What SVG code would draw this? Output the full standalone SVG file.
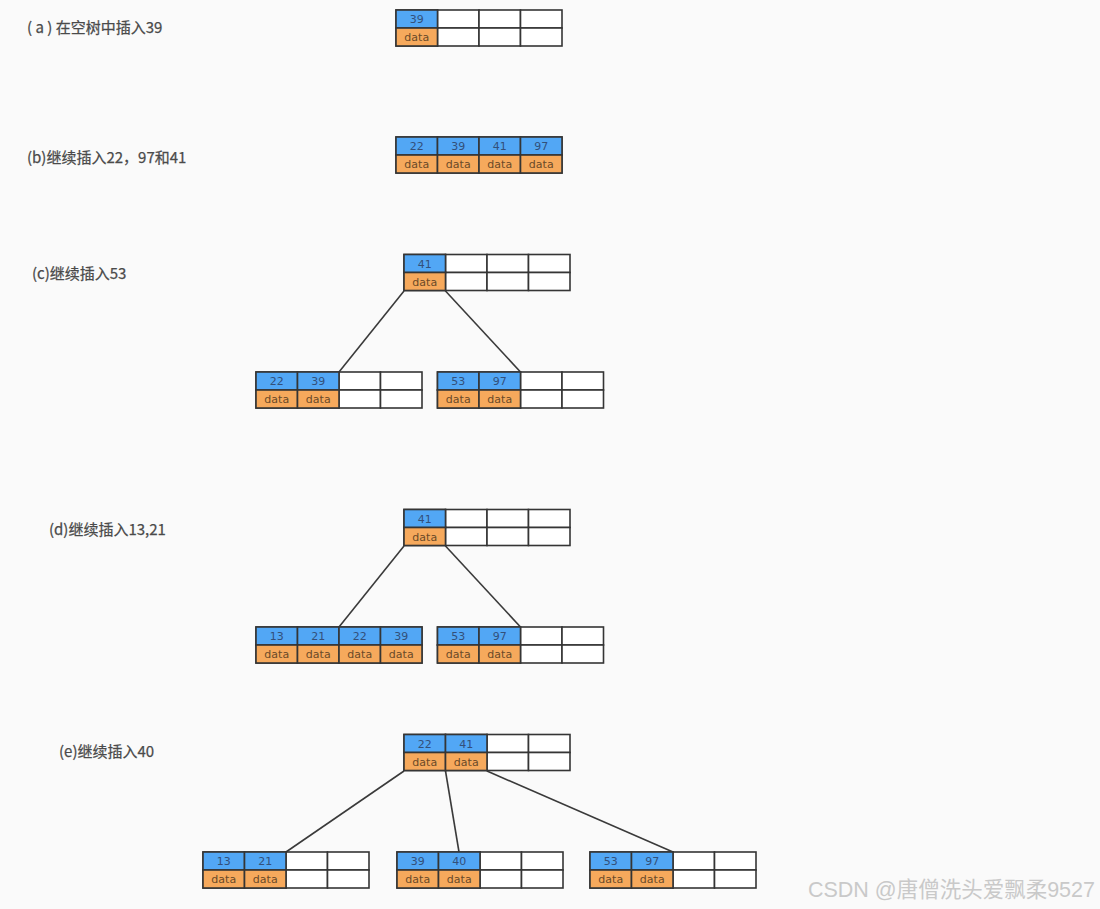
<svg xmlns="http://www.w3.org/2000/svg" width="1100" height="909" viewBox="0 0 1100 909">
<defs>
<style>
.bg{fill:#fafafa}
.k{fill:#52a7f5;stroke:#353535;stroke-width:1.6}
.d{fill:#f6a95c;stroke:#353535;stroke-width:1.6}
.e{fill:#ffffff;stroke:#353535;stroke-width:1.6}
.kt{font-family:"DejaVu Sans",sans-serif;font-size:11px;fill:#33507a;text-anchor:middle}
.dt{font-family:"DejaVu Sans",sans-serif;font-size:11px;fill:#6a4a28;text-anchor:middle}
.lbl{font-family:"Noto Sans CJK SC","Noto Sans",sans-serif;font-size:15px;fill:#4a4a4a;stroke:#4a4a4a;stroke-width:0.25}
.wm{font-family:"Liberation Sans","Noto Sans CJK SC",sans-serif;font-size:21.5px;fill:#c9c9c9;text-anchor:end}
.ln{stroke:#3a3a3a;stroke-width:1.6;fill:none}
</style>
<g id="e4">
<rect class="e" x="0" y="0" width="41.5" height="18"/><rect class="e" x="41.5" y="0" width="41.5" height="18"/><rect class="e" x="83" y="0" width="41.5" height="18"/><rect class="e" x="124.5" y="0" width="41.5" height="18"/>
<rect class="e" x="0" y="18" width="41.5" height="18"/><rect class="e" x="41.5" y="18" width="41.5" height="18"/><rect class="e" x="83" y="18" width="41.5" height="18"/><rect class="e" x="124.5" y="18" width="41.5" height="18"/>
</g>
</defs>
<rect class="bg" x="0" y="0" width="1100" height="909"/>

<g id="labels">
<text class="lbl" x="27" y="32.5">( a ) 在空树中插入39</text>
<text class="lbl" x="27" y="162.5">(b)继续插入22，97和41</text>
<text class="lbl" x="32" y="278.5">(c)继续插入53</text>
<text class="lbl" x="49" y="534.5">(d)继续插入13,21</text>
<text class="lbl" x="59" y="757">(e)继续插入40</text>
</g>

<g id="connectors">
<line class="ln" x1="404" y1="291" x2="339" y2="372"/>
<line class="ln" x1="445.5" y1="291" x2="520.5" y2="372"/>
<line class="ln" x1="404" y1="546" x2="339" y2="627"/>
<line class="ln" x1="445.5" y1="546" x2="520.5" y2="627"/>
<line class="ln" x1="404" y1="771" x2="286" y2="852"/>
<line class="ln" x1="445.5" y1="771" x2="459" y2="852"/>
<line class="ln" x1="487" y1="771" x2="673" y2="852"/>
</g>

<g id="node-a" transform="translate(396,10)">
<use href="#e4"/>
<rect class="k" x="0" y="0" width="41.5" height="18"/><rect class="d" x="0" y="18" width="41.5" height="18"/>
<text class="kt" x="20.75" y="13">39</text><text class="dt" x="20.75" y="31">data</text>
</g>

<g id="node-b" transform="translate(396,137)">
<use href="#e4"/>
<rect class="k" x="0" y="0" width="41.5" height="18"/><rect class="k" x="41.5" y="0" width="41.5" height="18"/><rect class="k" x="83" y="0" width="41.5" height="18"/><rect class="k" x="124.5" y="0" width="41.5" height="18"/>
<rect class="d" x="0" y="18" width="41.5" height="18"/><rect class="d" x="41.5" y="18" width="41.5" height="18"/><rect class="d" x="83" y="18" width="41.5" height="18"/><rect class="d" x="124.5" y="18" width="41.5" height="18"/>
<text class="kt" x="20.75" y="13">22</text><text class="kt" x="62.25" y="13">39</text><text class="kt" x="103.75" y="13">41</text><text class="kt" x="145.25" y="13">97</text>
<text class="dt" x="20.75" y="31">data</text><text class="dt" x="62.25" y="31">data</text><text class="dt" x="103.75" y="31">data</text><text class="dt" x="145.25" y="31">data</text>
</g>

<g id="node-c-root" transform="translate(404,254.5)">
<use href="#e4"/>
<rect class="k" x="0" y="0" width="41.5" height="18"/><rect class="d" x="0" y="18" width="41.5" height="18"/>
<text class="kt" x="20.75" y="13">41</text><text class="dt" x="20.75" y="31">data</text>
</g>
<g id="node-c-left" transform="translate(256,372)">
<use href="#e4"/>
<rect class="k" x="0" y="0" width="41.5" height="18"/><rect class="k" x="41.5" y="0" width="41.5" height="18"/>
<rect class="d" x="0" y="18" width="41.5" height="18"/><rect class="d" x="41.5" y="18" width="41.5" height="18"/>
<text class="kt" x="20.75" y="13">22</text><text class="kt" x="62.25" y="13">39</text>
<text class="dt" x="20.75" y="31">data</text><text class="dt" x="62.25" y="31">data</text>
</g>
<g id="node-c-right" transform="translate(437.5,372)">
<use href="#e4"/>
<rect class="k" x="0" y="0" width="41.5" height="18"/><rect class="k" x="41.5" y="0" width="41.5" height="18"/>
<rect class="d" x="0" y="18" width="41.5" height="18"/><rect class="d" x="41.5" y="18" width="41.5" height="18"/>
<text class="kt" x="20.75" y="13">53</text><text class="kt" x="62.25" y="13">97</text>
<text class="dt" x="20.75" y="31">data</text><text class="dt" x="62.25" y="31">data</text>
</g>

<g id="node-d-root" transform="translate(404,509.5)">
<use href="#e4"/>
<rect class="k" x="0" y="0" width="41.5" height="18"/><rect class="d" x="0" y="18" width="41.5" height="18"/>
<text class="kt" x="20.75" y="13">41</text><text class="dt" x="20.75" y="31">data</text>
</g>
<g id="node-d-left" transform="translate(256,627)">
<use href="#e4"/>
<rect class="k" x="0" y="0" width="41.5" height="18"/><rect class="k" x="41.5" y="0" width="41.5" height="18"/><rect class="k" x="83" y="0" width="41.5" height="18"/><rect class="k" x="124.5" y="0" width="41.5" height="18"/>
<rect class="d" x="0" y="18" width="41.5" height="18"/><rect class="d" x="41.5" y="18" width="41.5" height="18"/><rect class="d" x="83" y="18" width="41.5" height="18"/><rect class="d" x="124.5" y="18" width="41.5" height="18"/>
<text class="kt" x="20.75" y="13">13</text><text class="kt" x="62.25" y="13">21</text><text class="kt" x="103.75" y="13">22</text><text class="kt" x="145.25" y="13">39</text>
<text class="dt" x="20.75" y="31">data</text><text class="dt" x="62.25" y="31">data</text><text class="dt" x="103.75" y="31">data</text><text class="dt" x="145.25" y="31">data</text>
</g>
<g id="node-d-right" transform="translate(437.5,627)">
<use href="#e4"/>
<rect class="k" x="0" y="0" width="41.5" height="18"/><rect class="k" x="41.5" y="0" width="41.5" height="18"/>
<rect class="d" x="0" y="18" width="41.5" height="18"/><rect class="d" x="41.5" y="18" width="41.5" height="18"/>
<text class="kt" x="20.75" y="13">53</text><text class="kt" x="62.25" y="13">97</text>
<text class="dt" x="20.75" y="31">data</text><text class="dt" x="62.25" y="31">data</text>
</g>

<g id="node-e-root" transform="translate(404,734.5)">
<use href="#e4"/>
<rect class="k" x="0" y="0" width="41.5" height="18"/><rect class="k" x="41.5" y="0" width="41.5" height="18"/>
<rect class="d" x="0" y="18" width="41.5" height="18"/><rect class="d" x="41.5" y="18" width="41.5" height="18"/>
<text class="kt" x="20.75" y="13">22</text><text class="kt" x="62.25" y="13">41</text>
<text class="dt" x="20.75" y="31">data</text><text class="dt" x="62.25" y="31">data</text>
</g>
<g id="node-e-left" transform="translate(203,852)">
<use href="#e4"/>
<rect class="k" x="0" y="0" width="41.5" height="18"/><rect class="k" x="41.5" y="0" width="41.5" height="18"/>
<rect class="d" x="0" y="18" width="41.5" height="18"/><rect class="d" x="41.5" y="18" width="41.5" height="18"/>
<text class="kt" x="20.75" y="13">13</text><text class="kt" x="62.25" y="13">21</text>
<text class="dt" x="20.75" y="31">data</text><text class="dt" x="62.25" y="31">data</text>
</g>
<g id="node-e-mid" transform="translate(397,852)">
<use href="#e4"/>
<rect class="k" x="0" y="0" width="41.5" height="18"/><rect class="k" x="41.5" y="0" width="41.5" height="18"/>
<rect class="d" x="0" y="18" width="41.5" height="18"/><rect class="d" x="41.5" y="18" width="41.5" height="18"/>
<text class="kt" x="20.75" y="13">39</text><text class="kt" x="62.25" y="13">40</text>
<text class="dt" x="20.75" y="31">data</text><text class="dt" x="62.25" y="31">data</text>
</g>
<g id="node-e-right" transform="translate(590,852)">
<use href="#e4"/>
<rect class="k" x="0" y="0" width="41.5" height="18"/><rect class="k" x="41.5" y="0" width="41.5" height="18"/>
<rect class="d" x="0" y="18" width="41.5" height="18"/><rect class="d" x="41.5" y="18" width="41.5" height="18"/>
<text class="kt" x="20.75" y="13">53</text><text class="kt" x="62.25" y="13">97</text>
<text class="dt" x="20.75" y="31">data</text><text class="dt" x="62.25" y="31">data</text>
</g>

<text class="wm" x="1095" y="897">CSDN @唐僧洗头爱飘柔9527</text>
</svg>
